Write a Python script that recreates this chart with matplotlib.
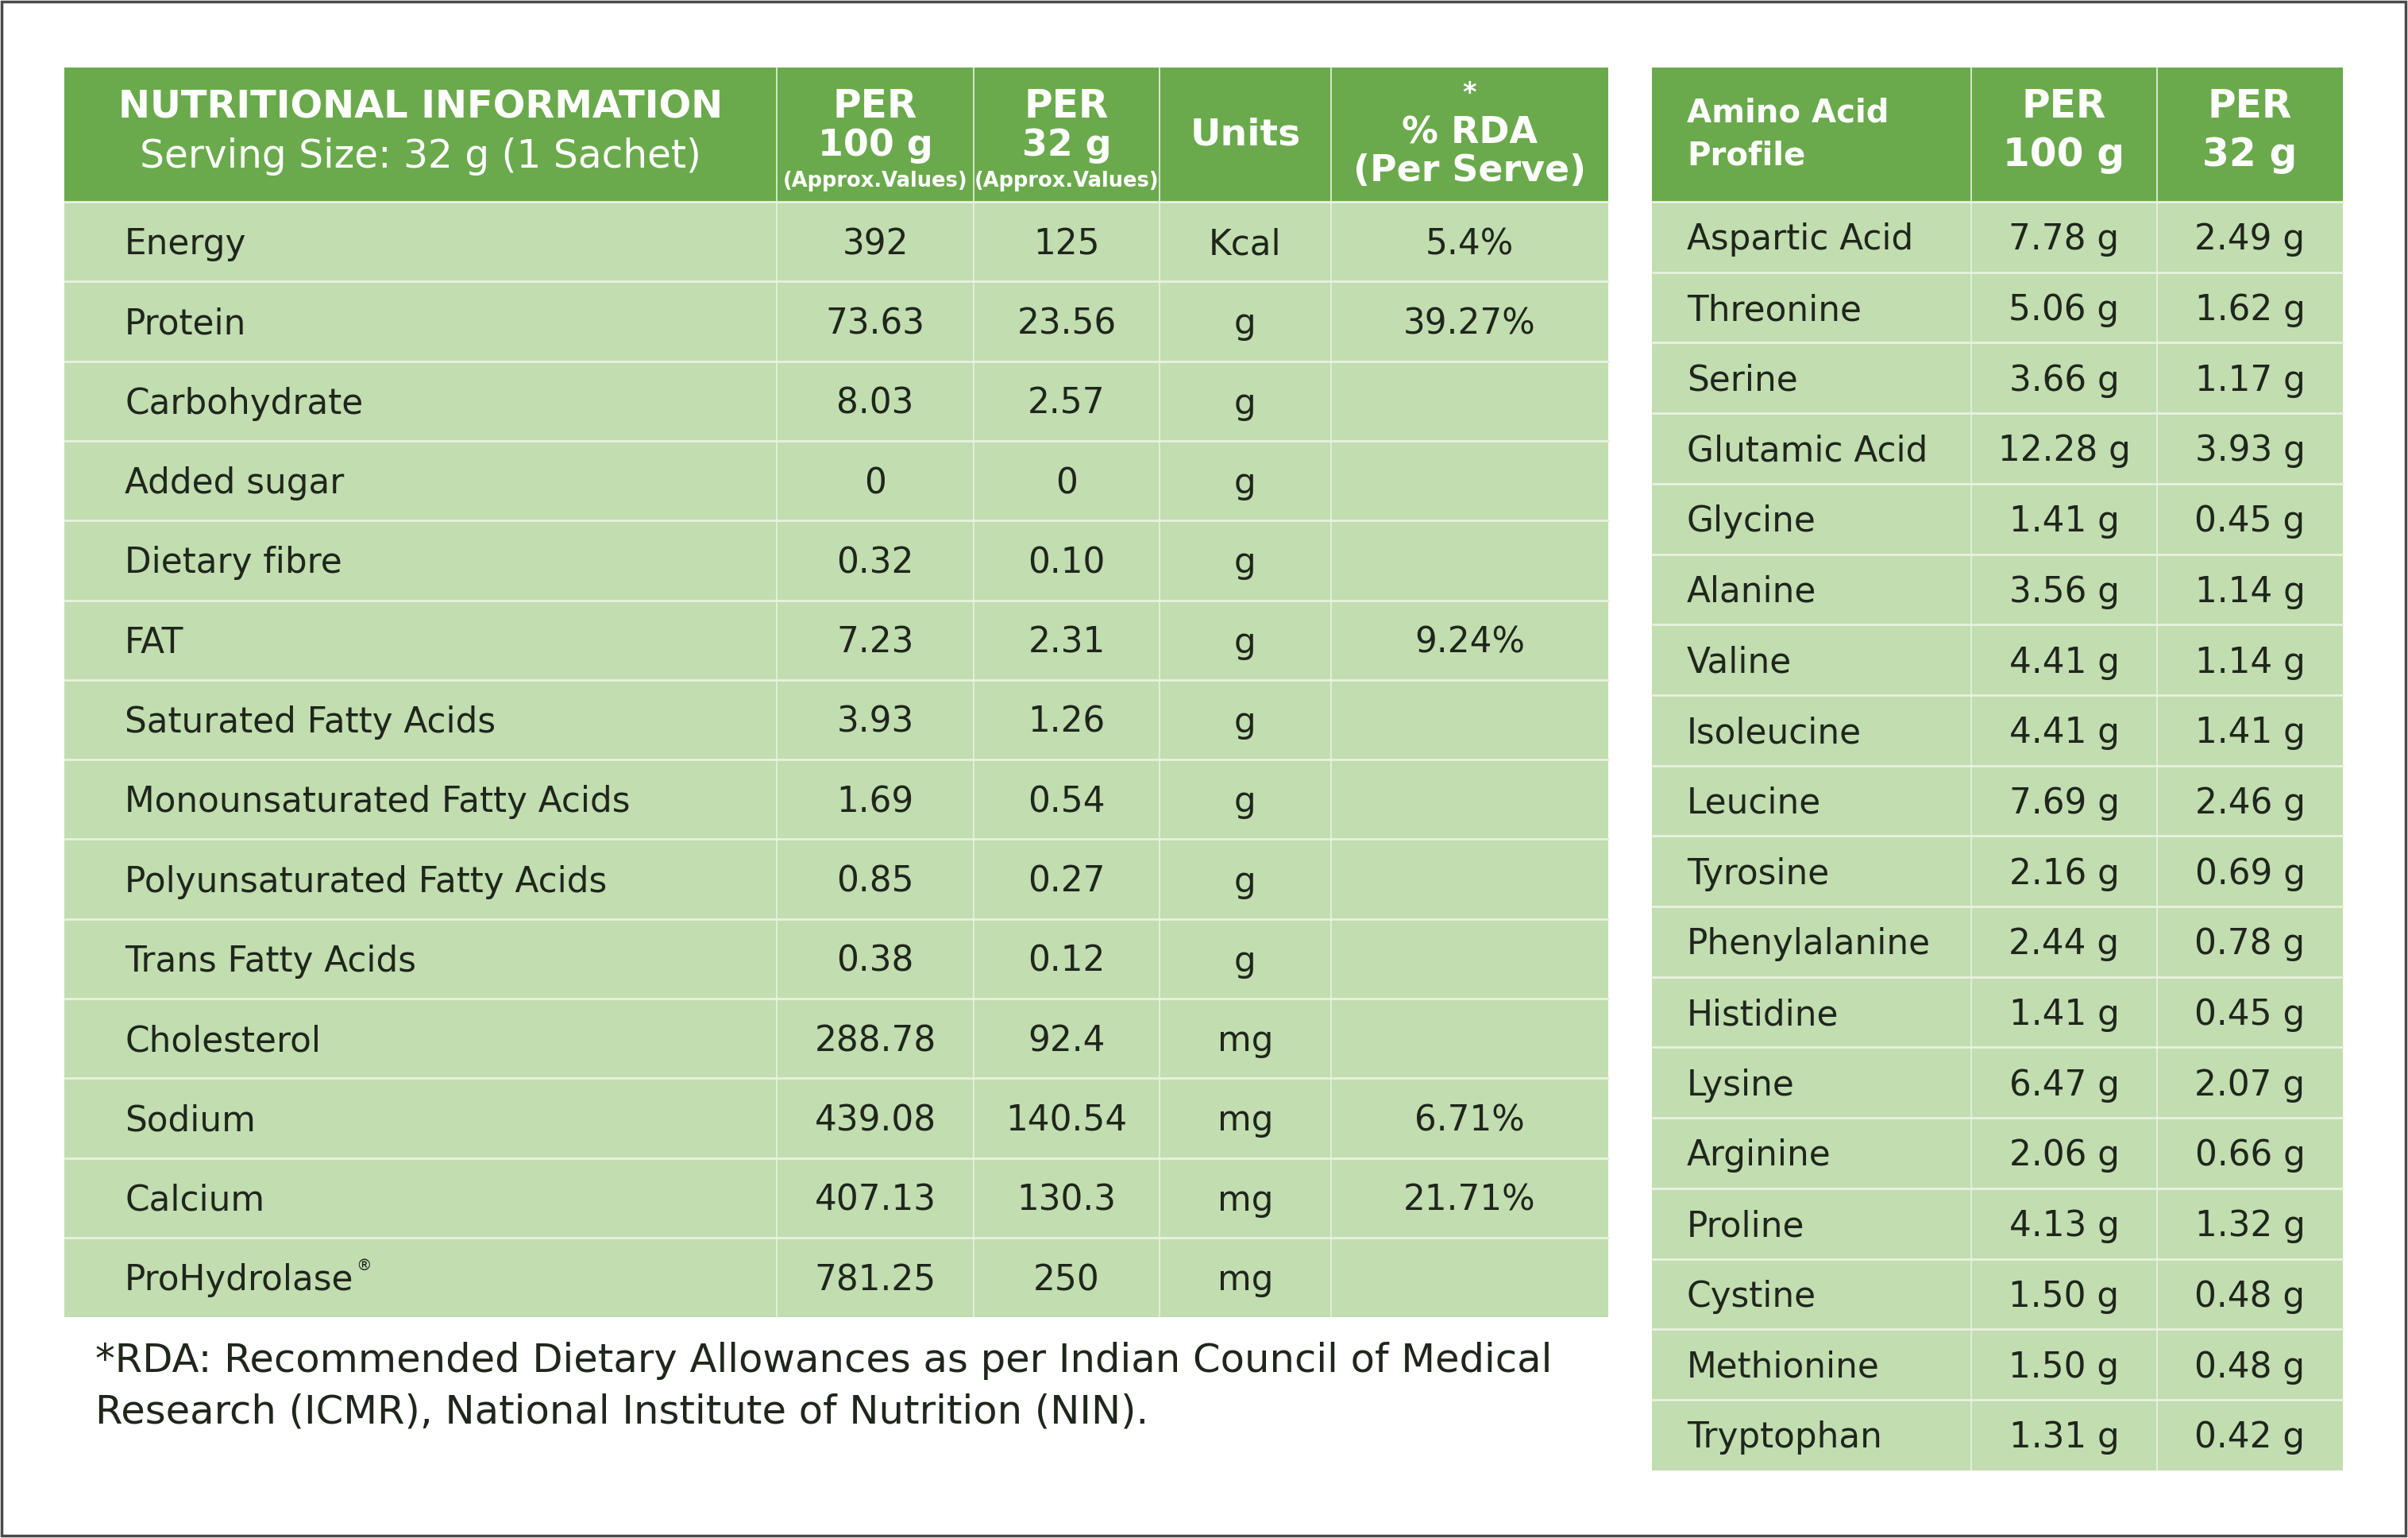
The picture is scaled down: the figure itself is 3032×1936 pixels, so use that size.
import matplotlib.pyplot as plt
from matplotlib.patches import Rectangle

# Nutritional table data
nutrients = ['Energy', 'Protein', 'Carbohydrate', 'Added sugar', 'Dietary fibre', 'FAT',
             'Saturated Fatty Acids', 'Monounsaturated Fatty Acids', 'Polyunsaturated Fatty Acids',
             'Trans Fatty Acids', 'Cholesterol', 'Sodium', 'Calcium', 'ProHydrolase']
per_100g = ['392', '73.63', '8.03', '0', '0.32', '7.23', '3.93', '1.69', '0.85', '0.38',
            '288.78', '439.08', '407.13', '781.25']
per_32g = ['125', '23.56', '2.57', '0', '0.10', '2.31', '1.26', '0.54', '0.27', '0.12',
           '92.4', '140.54', '130.3', '250']
units = ['Kcal', 'g', 'g', 'g', 'g', 'g', 'g', 'g', 'g', 'g', 'mg', 'mg', 'mg', 'mg']
rda = ['5.4%', '39.27%', '', '', '', '9.24%', '', '', '', '', '', '6.71%', '21.71%', '']

# Amino acid profile data
amino = ['Aspartic Acid', 'Threonine', 'Serine', 'Glutamic Acid', 'Glycine', 'Alanine', 'Valine',
         'Isoleucine', 'Leucine', 'Tyrosine', 'Phenylalanine', 'Histidine', 'Lysine', 'Arginine',
         'Proline', 'Cystine', 'Methionine', 'Tryptophan']
amino_100g = ['7.78 g', '5.06 g', '3.66 g', '12.28 g', '1.41 g', '3.56 g', '4.41 g', '4.41 g',
              '7.69 g', '2.16 g', '2.44 g', '1.41 g', '6.47 g', '2.06 g', '4.13 g', '1.50 g',
              '1.50 g', '1.31 g']
amino_32g = ['2.49 g', '1.62 g', '1.17 g', '3.93 g', '0.45 g', '1.14 g', '1.14 g', '1.41 g',
             '2.46 g', '0.69 g', '0.78 g', '0.45 g', '2.07 g', '0.66 g', '1.32 g', '0.48 g',
             '0.48 g', '0.42 g']

footnote = ['*RDA: Recommended Dietary Allowances as per Indian Council of Medical',
            'Research (ICMR), National Institute of Nutrition (NIN).']

# Colours
HEAD = '#6aaa4c'
BODY = '#c2ddb0'
LINE = '#e8f2e0'
INK = '#1f261c'
FS = 31.5  # body text size

plt.rcParams['font.family'] = ['DejaVu Sans']

fig = plt.figure(figsize=(30.32, 19.36), dpi=100)
ax = fig.add_axes([0, 0, 1, 1])
ax.set_xlim(0, 3032)
ax.set_ylim(1936, 0)
ax.axis('off')

# outer frame
ax.add_patch(Rectangle((2, 2), 3027, 1931, fill=False, ec='#4a4a4a', lw=2.5))


def grid(cols, top, head_h, row_h, nrows):
    ax.add_patch(Rectangle((cols[0], top), cols[-1] - cols[0], head_h, fc=HEAD, ec='none'))
    body_top = top + head_h
    ax.add_patch(Rectangle((cols[0], body_top), cols[-1] - cols[0], row_h * nrows,
                           fc=BODY, ec='none'))
    for x in cols[1:-1]:
        ax.plot([x, x], [top, body_top + row_h * nrows], color=LINE, lw=1.2)
    for i in range(nrows):
        y = body_top + i * row_h
        ax.plot([cols[0], cols[-1]], [y, y], color=LINE, lw=2)
    return body_top


# ---------- Left table ----------
lcols = [81, 978, 1226, 1460, 1676, 2025]
top = 85
head_h = 169
row_h = 100.3
btop = grid(lcols, top, head_h, row_h, len(nutrients))

ax.text((lcols[0] + lcols[1]) / 2, 135, 'NUTRITIONAL INFORMATION', color='white',
        fontsize=34.5, fontweight='bold', ha='center', va='center')
ax.text((lcols[0] + lcols[1]) / 2, 197, 'Serving Size: 32 g (1 Sachet)', color='white',
        fontsize=35, ha='center', va='center')
for j, sub in [(1, '100 g'), (2, '32 g')]:
    cx = (lcols[j] + lcols[j + 1]) / 2
    ax.text(cx, 134, 'PER', color='white', fontsize=35, fontweight='bold', ha='center', va='center')
    ax.text(cx, 183, sub, color='white', fontsize=33, fontweight='bold', ha='center', va='center')
    ax.text(cx, 228, '(Approx.Values)', color='white', fontsize=18.5, fontweight='bold',
            ha='center', va='center')
ax.text((lcols[3] + lcols[4]) / 2, 170, 'Units', color='white', fontsize=34,
        fontweight='bold', ha='center', va='center')
cx = (lcols[4] + lcols[5]) / 2
ax.text(cx, 118, '*', color='white', fontsize=24, fontweight='bold', ha='center', va='center')
ax.text(cx, 168, '% RDA', color='white', fontsize=33, fontweight='bold', ha='center', va='center')
ax.text(cx, 215, '(Per Serve)', color='white', fontsize=33, fontweight='bold',
        ha='center', va='center')

for i, name in enumerate(nutrients):
    yb = btop + (i + 0.5) * row_h + 16
    t = ax.text(157, yb, name, color=INK, fontsize=FS, ha='left', va='baseline')
    if name == 'ProHydrolase':
        ax.annotate('®', xy=(1, 1), xycoords=t, xytext=(2, 4), textcoords='offset points',
                    fontsize=14, color=INK, ha='left', va='top')
    for j, col in enumerate([per_100g, per_32g, units, rda], start=1):
        ax.text((lcols[j] + lcols[j + 1]) / 2, yb, col[i], color=INK, fontsize=FS,
                ha='center', va='baseline')

for k, line in enumerate(footnote):
    ax.text(120, 1713 + k * 64, line, color=INK, fontsize=35.7, ha='left', va='center')

# ---------- Right table ----------
rcols = [2080, 2482, 2716, 2950]
rrow_h = 88.7
rbtop = grid(rcols, top, head_h, rrow_h, len(amino))

ax.text(2124, 143, 'Amino Acid', color='white', fontsize=29, fontweight='bold',
        ha='left', va='center')
ax.text(2124, 196, 'Profile', color='white', fontsize=29, fontweight='bold',
        ha='left', va='center')
for j, sub in [(1, '100 g'), (2, '32 g')]:
    cx = (rcols[j] + rcols[j + 1]) / 2
    ax.text(cx, 134, 'PER', color='white', fontsize=35, fontweight='bold', ha='center', va='center')
    ax.text(cx, 195, sub, color='white', fontsize=35, fontweight='bold', ha='center', va='center')

for i, name in enumerate(amino):
    yb = rbtop + (i + 0.5) * rrow_h + 16
    ax.text(2124, yb, name, color=INK, fontsize=FS, ha='left', va='baseline')
    for j, col in enumerate([amino_100g, amino_32g], start=1):
        ax.text((rcols[j] + rcols[j + 1]) / 2, yb, col[i], color=INK, fontsize=FS,
                ha='center', va='baseline')

fig.savefig('out.png', dpi=100)
